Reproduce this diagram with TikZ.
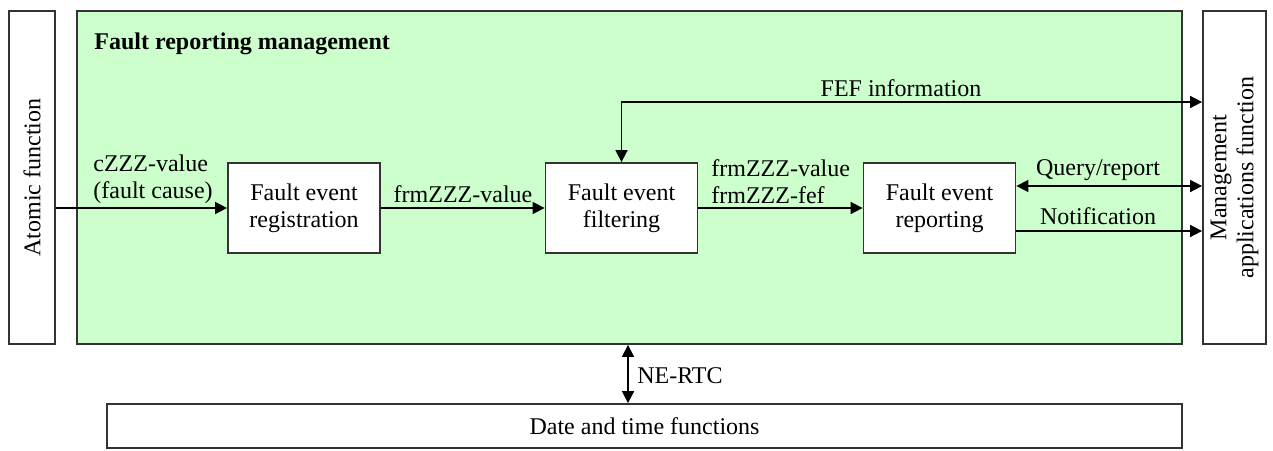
\documentclass[tikz,border=0pt]{standalone}
\usepackage{fontspec}
\setmainfont{Liberation Serif}
\usetikzlibrary{arrows.meta}
\begin{document}
\begin{tikzpicture}[x=0.5pt,y=-0.5pt,
  every node/.style={font=\fontsize{12}{13.5}\selectfont, inner sep=0pt},
  frame/.style={draw=black!80, line width=0.9pt},
  blockbox/.style={frame, fill=white, minimum width=76pt, minimum height=45pt, align=center},
  conn/.style={line width=0.8pt, -{Triangle[length=6pt,width=6pt]}},
  conn2/.style={line width=0.8pt, {Triangle[length=6pt,width=6pt]}-{Triangle[length=6pt,width=6pt]}},
  lbl/.style={align=left}]
\useasboundingbox (0,0) rectangle (1273,450);
% outer frames
\node[frame, fill={rgb,255:red,204;green,255;blue,204}, minimum width=552.5pt, minimum height=166.5pt] (green) at (629.5,177.5) {};
\node[frame, fill=white, minimum width=23pt, minimum height=166.5pt] (atomic) at (32,177.5) {};
\node[rotate=90] (atomictext) at (32,177.5) {Atomic function};
\node[frame, fill=white, minimum width=31.5pt, minimum height=166.5pt] (mgmt) at (1234.5,177.5) {};
\node[rotate=90, align=center] (mgmttext) at (1234.5,177.5) {Management\\applications function};
\node[frame, fill=white, minimum width=537.5pt, minimum height=22pt] (date) at (644.5,426) {Date and time functions};
\node[anchor=base west, font=\fontsize{12}{13.5}\selectfont\bfseries] (title) at (94,49) {Fault reporting management};
% blocks
\node[blockbox] (reg) at (304,208) {Fault event\\registration};
\node[blockbox] (filt) at (621.5,208) {Fault event\\filtering};
\node[blockbox] (rep) at (939.5,208) {Fault event\\reporting};
% helper coordinates
\coordinate (fefy) at (0,102);
\coordinate (qy) at (0,186);
\coordinate (ny) at (0,231);
\coordinate (rtcx) at (628,0);
% connectors
\draw[conn] (atomic.east |- reg.west) -- (reg.west);
\draw[conn] (reg.east) -- (filt.west);
\draw[conn] (filt.east) -- (rep.west);
\draw[conn2] (filt.north) |- (mgmt.west |- fefy);
\draw[conn2] (rep.east |- qy) -- (mgmt.west |- qy);
\draw[conn] (rep.east |- ny) -- (mgmt.west |- ny);
\draw[conn2] (green.south -| rtcx) -- (date.north -| rtcx);
% labels
\node[lbl, anchor=south west] (l1) at (93,204) {cZZZ-value\\(fault cause)};
\node[anchor=south] (l2) at (463,203) {frmZZZ-value};
\node[lbl, anchor=south west] (l3) at (711,204) {frmZZZ-value\\frmZZZ-fef};
\node[anchor=south] (l4) at (901,97) {FEF information};
\node[anchor=south] (l5) at (1098,181) {Query/report};
\node[anchor=south] (l6) at (1098,225) {Notification};
\node[anchor=west] (l7) at (637,376) {NE-RTC};
\end{tikzpicture}
\end{document}
